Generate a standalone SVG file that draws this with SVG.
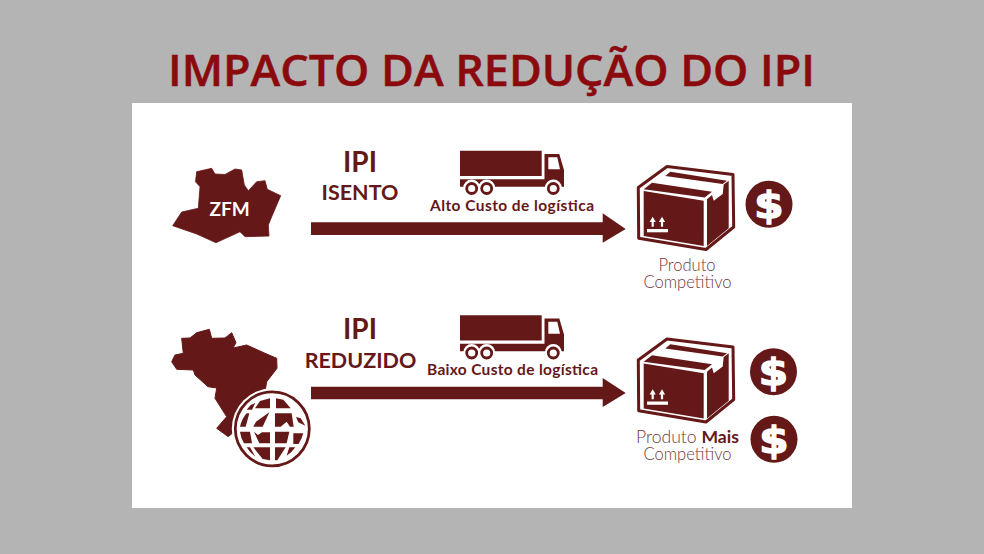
<svg xmlns="http://www.w3.org/2000/svg" width="984" height="554" viewBox="0 0 984 554">
<style>
.m{fill:#651818}
.h{font-family:"Lato","Noto Sans",sans-serif;font-weight:700;fill:#651818;text-anchor:middle}
.l{font-family:"Lato","Noto Sans",sans-serif;font-weight:300;font-size:16.6px;fill:#6f3a3a;text-anchor:middle}
.d{font-family:"DejaVu Sans",sans-serif;font-weight:700;font-size:37px;fill:#fff;stroke:#fff;stroke-width:1.4px;text-anchor:middle}
</style>
<defs>
<g id="truck">
<path class="m" d="M460 150.7H541.7V176H460Z"/>
<path class="m" d="M460 179.3H544.5V154H559.3L564 170V186.7H460Z"/>
<path fill="#fff" d="M548.3 157.3H557.3L560 169.3H548.3Z"/>
<g fill="#fff"><circle cx="471.7" cy="188" r="8.5"/><circle cx="486.7" cy="188" r="8.5"/><circle cx="553.3" cy="188" r="8.5"/></g>
<g fill="#fff" stroke="#651818" stroke-width="2.8"><circle cx="471.7" cy="188.5" r="5"/><circle cx="486.7" cy="188.5" r="5"/><circle cx="553.3" cy="188.5" r="5"/></g>
</g>
<g id="box">
<path fill="none" stroke="#651818" stroke-width="3" stroke-linejoin="round" d="M667 166.5L733 174.5L733.7 227L706 249.5L638.7 238.3L638.3 187.5Z"/>
<path class="m" d="M643.7 191L703.7 200.8V246L643.7 236Z"/>
<path class="m" d="M643.7 189.3L652 182.7L712 191.7L704.7 197.5Z"/>
<path class="m" d="M665.3 176L670.3 171.7L727 180.7L722.7 184Z"/>
<path class="m" d="M707 199.3L712 195L713.7 200.7L722.7 194L723.7 184.5L728.7 180.7V228.3L707 246Z"/>
<g fill="#fff"><path d="M649.6 222L652.7 216.7L655.8 222H653.8V226.7H651.6V222Z"/><path d="M658.9 222L662 216.7L665.1 222H663.1V226.7H660.9V222Z"/><path d="M647 229H668V232.3H647Z"/></g>
</g>
<g id="coin"><circle class="m" r="23.5"/><text class="d" y="13.5" transform="scale(1.14 1)">$</text></g>
</defs>
<rect width="984" height="554" fill="#b4b4b4"/>
<rect x="132" y="103" width="720" height="405" fill="#fff"/>
<text x="168" y="86" font-family="'Open Sans','Noto Sans',sans-serif" font-weight="600" font-size="44" fill="#8a0a0e" textLength="647" lengthAdjust="spacingAndGlyphs" stroke="#8a0a0e" stroke-width="0.5">IMPACTO DA REDUÇÃO DO IPI</text>
<g id="connectors">
<path class="m" d="M311 222.3H602.7V213.3L625.7 229L602.7 242.7V235H311Z"/>
<path class="m" d="M311 386.7H602.7V378L625.7 393L602.7 407V399.3H311Z"/>
</g>
<g id="zfm">
<path class="m" stroke="#651818" stroke-width="0.8" stroke-linejoin="round" d="M196.7 171.7L211.7 168.3L215 174L225 174.5L235 169L241.7 170L244.3 185L248.3 190.7L256.7 181.7L265 180.7L267.3 189.3L280.7 195.7L271.7 216.7L268.3 225L269 236L245 236.7L240 231.7L216 242.7L196.7 234L172.7 225.7L181.7 212L198.3 208.3L200 186.7L195.5 181.7Z"/>
<text x="229.5" y="216" font-family="Lato,sans-serif" font-weight="700" font-size="19" fill="#fff" text-anchor="middle">ZFM</text>
</g>
<g id="ipi-isento">
<text class="h" x="360" y="172" font-size="28">IPI</text>
<text class="h" x="360" y="199.5" font-size="21.5">ISENTO</text>
</g>
<g id="truck-alto">
<use href="#truck"/>
<text class="h" x="430" y="211" font-size="15.5" style="text-anchor:start" textLength="164">Alto Custo de logística</text>
</g>
<g id="produto-1">
<use href="#box"/>
<text class="l"><tspan x="687" y="271">Produto</tspan><tspan x="687.5" y="288">Competitivo</tspan></text>
<use href="#coin" x="769" y="204.3"/>
</g>
<g id="brasil">
<path class="m" stroke="#651818" stroke-width="1" stroke-linejoin="round" d="M181.7 338.3L190 338L196.7 332.7L209.3 329.3L211.7 338.3L225 338L231.7 332.7L236 342.7L233 348L246.7 345L265 353.3L276.7 358.3L277 368.3L266.7 381.7L265 391.7L270 400L228.3 436.7L216.7 428.3L226.7 416.7L215 398.3L216.7 388L208 386.7L195 375L193.3 370L176.7 369.3L171.7 361.7L175 355L183.3 353.3Z"/>
<circle cx="272.3" cy="428.8" r="40.5" fill="#fff"/>
<circle cx="272.3" cy="428.8" r="37" fill="#fff" stroke="#651818" stroke-width="2.8"/>
<g transform="translate(230 385) scale(.3333)" class="m">
<path d="M90 48L120 40V70H75Z"/>
<path d="M138 40L160 44L182 70H138Z"/>
<path d="M62 60L76 54L66 74H50Z"/>
<path d="M50 85L58 85L47 125H30Q36 100 50 85Z"/>
<path d="M135 85H185L191 125H180L170 110L152 125H135Z"/>
<path d="M78 110L118 82L98 125H70Z"/>
<path d="M198 96L212 100L226 122L205 112Z"/>
<path d="M30 140H60L66 175H42Q32 158 30 140Z"/>
<path d="M72 140L84 150L96 142H120V175H88Z"/>
<path d="M135 140H178L170 175H135Z"/>
<path d="M190 145H220Q216 160 206 177H190Z"/>
<path d="M70 187H120V226L98 222Z"/>
<path d="M135 187H167L142 226H135Z"/>
<path d="M50 187H60L76 215Q60 204 50 187Z"/>
<path d="M178 187H196Q186 202 170 212Z"/>
</g>
</g>
<g id="ipi-reduzido">
<text class="h" x="360" y="339" font-size="28">IPI</text>
<text class="h" x="360.5" y="367.5" font-size="21.5">REDUZIDO</text>
</g>
<g id="truck-baixo">
<use href="#truck" y="164.5"/>
<text class="h" x="427" y="375" font-size="15.5" style="text-anchor:start" textLength="171">Baixo Custo de logística</text>
</g>
<g id="produto-2">
<use href="#box" y="172.5"/>
<text class="l"><tspan x="687.5" y="442.5" font-size="17.6">Produto <tspan font-weight="700" fill="#651818">Mais</tspan></tspan><tspan x="687.5" y="459.5">Competitivo</tspan></text>
<use href="#coin" x="773.5" y="371.7"/>
<use href="#coin" x="774" y="439.3"/>
</g>
</svg>
